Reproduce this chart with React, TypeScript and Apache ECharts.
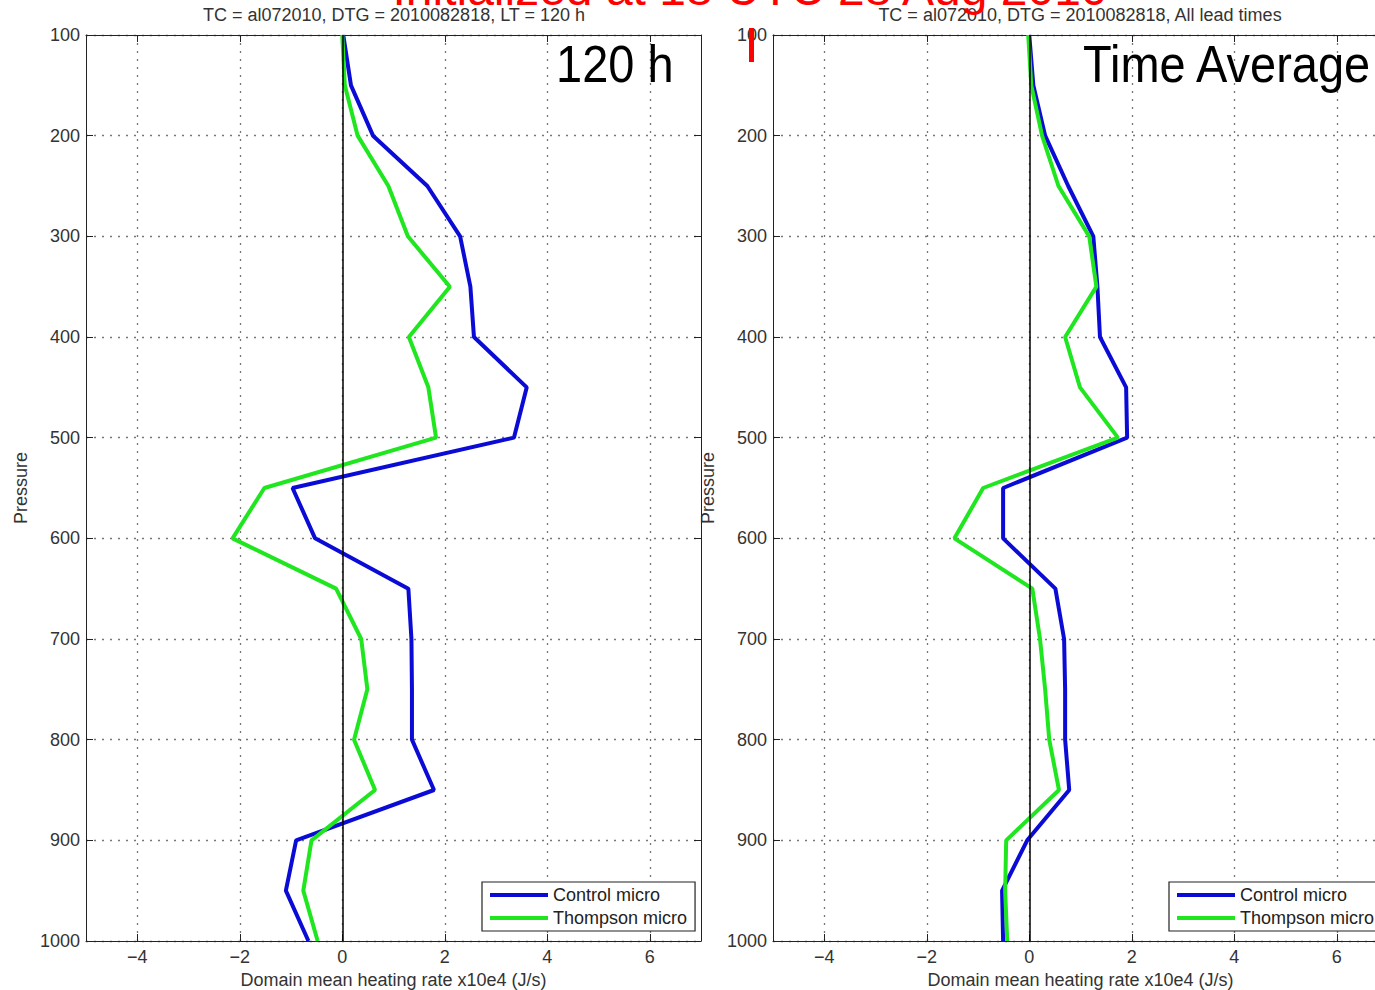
import React, { useEffect, useRef } from 'react';
import * as echarts from 'echarts';

const pressureLevels = [100, 150, 200, 250, 300, 350, 400, 450, 500, 550, 600, 650, 700, 750, 800, 850, 900, 950, 1000];
const control120 = [0.02, 0.17, 0.6, 1.66, 2.3, 2.5, 2.57, 3.6, 3.35, -0.97, -0.53, 1.29, 1.35, 1.36, 1.36, 1.79, -0.9, -1.1, -0.66];
const thompson120 = [0.0, 0.05, 0.3, 0.9, 1.28, 2.1, 1.3, 1.68, 1.83, -1.52, -2.14, -0.12, 0.37, 0.49, 0.23, 0.64, -0.6, -0.76, -0.48];
const controlAvg = [0.0, 0.08, 0.31, 0.76, 1.25, 1.33, 1.38, 1.89, 1.91, -0.51, -0.51, 0.51, 0.68, 0.7, 0.7, 0.78, -0.04, -0.53, -0.51];
const thompsonAvg = [-0.02, 0.04, 0.25, 0.57, 1.17, 1.31, 0.7, 0.99, 1.73, -0.9, -1.46, 0.06, 0.21, 0.31, 0.39, 0.58, -0.45, -0.47, -0.43];
const xTicks = [-4, -2, 0, 2, 4, 6];
const seriesNames = ['Control micro', 'Thompson micro'];
const panelTitles = ['TC = al072010, DTG = 2010082818, LT = 120 h', 'TC = al072010, DTG = 2010082818, All lead times'];
const panelLabels = ['120 h', 'Time Average'];
const mainTitle = 'Initialized at 18 UTC 28 Aug 2010';
const xAxisName = 'Domain mean heating rate x10e4 (J/s)';
const yAxisName = 'Pressure';

const FONT = '"Liberation Sans", Arial, Helvetica, sans-serif';
const BLUE = '#0b0bd6';
const GREEN = '#1fe61f';
const AXIS = '#222';
const FS = 18;

const fmtX = (v: number) => (v < 0 ? '\u2212' + Math.abs(v) : String(v));

function makeX(gridIndex: number) {
  return [
    {
      gridIndex, type: 'value', min: -5, max: 7, position: 'bottom',
      axisLine: { show: true, onZero: false, lineStyle: { color: AXIS, width: 1 } },
      axisTick: { show: true, inside: true, length: 7, customValues: xTicks, lineStyle: { color: AXIS } },
      axisLabel: { show: true, customValues: xTicks, formatter: fmtX, fontSize: FS, color: '#333', margin: 7, fontFamily: FONT },
      splitLine: { show: true, lineStyle: { type: [2, 6], color: '#777', width: 1.3 } },
      name: xAxisName, nameLocation: 'middle', nameGap: 29,
      nameTextStyle: { fontSize: FS, color: '#333', fontFamily: FONT },
    },
    {
      gridIndex, type: 'value', min: -5, max: 7, position: 'top',
      axisLine: { show: true, onZero: false, lineStyle: { color: AXIS, width: 1 } },
      axisTick: { show: true, inside: true, length: 7, customValues: xTicks, lineStyle: { color: AXIS } },
      axisLabel: { show: false },
      splitLine: { show: false },
    },
  ];
}

function makeY(gridIndex: number) {
  return [
    {
      gridIndex, type: 'value', min: 100, max: 1000, interval: 100, inverse: true, position: 'left',
      axisLine: { show: true, onZero: false, lineStyle: { color: AXIS, width: 1 } },
      axisTick: { show: true, inside: true, length: 7, lineStyle: { color: AXIS } },
      axisLabel: { show: true, fontSize: FS, color: '#333', margin: 6, fontFamily: FONT, formatter: (v: number) => String(v) },
      splitLine: { show: true, lineStyle: { type: [2, 6], color: '#777', width: 1.3 } },
      name: yAxisName, nameLocation: 'middle', nameGap: 56, nameRotate: 90,
      nameTextStyle: { fontSize: FS, color: '#333', fontFamily: FONT },
    },
    {
      gridIndex, type: 'value', min: 100, max: 1000, interval: 100, inverse: true, position: 'right',
      axisLine: { show: true, onZero: false, lineStyle: { color: AXIS, width: 1 } },
      axisTick: { show: true, inside: true, length: 7, lineStyle: { color: AXIS } },
      axisLabel: { show: false },
      splitLine: { show: false },
    },
  ];
}

function makeSeries(name: string, vals: number[], color: string, axisIdx: number, zero: boolean) {
  return {
    name, type: 'line', xAxisIndex: axisIdx, yAxisIndex: axisIdx,
    data: pressureLevels.map((p, i) => [vals[i], p]),
    showSymbol: false, symbol: 'none',
    lineStyle: { color, width: 4 }, itemStyle: { color },
    z: 3,
    markLine: zero ? {
      silent: true, symbol: 'none', label: { show: false },
      lineStyle: { color: '#000', width: 1.5, type: 'solid' },
      data: [{ xAxis: 0 }],
    } : undefined,
  };
}

function makeLegend(left: number) {
  return {
    left, top: 882, orient: 'vertical', data: seriesNames,
    icon: 'rect', itemWidth: 58, itemHeight: 4, itemGap: 5,
    padding: [4, 8, 4, 8],
    borderColor: AXIS, borderWidth: 1.2, backgroundColor: '#fff',
    textStyle: { fontSize: FS, color: '#222', lineHeight: 18, fontFamily: FONT },
  };
}

export default function App() {
  const ref = useRef<HTMLDivElement>(null);
  useEffect(() => {
    if (!ref.current) return;
    const chart = echarts.init(ref.current, undefined, { renderer: 'svg' });
    chart.setOption({
      animation: false,
      backgroundColor: '#fff',
      textStyle: { fontFamily: FONT },
      grid: [
        { left: 86, top: 35, width: 615, height: 906, outerBoundsMode: 'none', containLabel: false },
        { left: 773, top: 35, width: 615, height: 906, outerBoundsMode: 'none', containLabel: false },
      ],
      xAxis: [...makeX(0), ...makeX(1)],
      yAxis: [...makeY(0), ...makeY(1)],
      legend: [makeLegend(482), makeLegend(1169)],
      series: [
        makeSeries(seriesNames[0], control120, BLUE, 0, true),
        makeSeries(seriesNames[1], thompson120, GREEN, 0, false),
        makeSeries(seriesNames[0], controlAvg, BLUE, 2, true),
        makeSeries(seriesNames[1], thompsonAvg, GREEN, 2, false),
      ],
      graphic: [
        { type: 'text', x: 750, y: -12, z: 10, style: { text: mainTitle, fontSize: 48, fill: '#ff0000', align: 'center', verticalAlign: 'middle', fontFamily: FONT } },
        { type: 'rect', z: 10, shape: { x: 749, y: 28, width: 5, height: 34 }, style: { fill: '#ff0000' } },
        { type: 'text', x: 394, y: 15, style: { text: panelTitles[0], fontSize: FS, fill: '#333', align: 'center', verticalAlign: 'middle', fontFamily: FONT } },
        { type: 'text', x: 1080, y: 15, style: { text: panelTitles[1], fontSize: FS, fill: '#333', align: 'center', verticalAlign: 'middle', fontFamily: FONT } },
        { type: 'text', x: 556, y: 64, scaleY: 1.12, z: 10, style: { text: panelLabels[0], fontSize: 47, fill: '#000', align: 'left', verticalAlign: 'middle', fontFamily: FONT } },
        { type: 'text', x: 1083, y: 64, scaleY: 1.12, z: 10, style: { text: panelLabels[1], fontSize: 47, fill: '#000', align: 'left', verticalAlign: 'middle', fontFamily: FONT } },
      ],
    });
    return () => chart.dispose();
  }, []);
  return (
    <div style={{ position: 'absolute', left: 0, top: 0, width: 1375, height: 990, overflow: 'hidden', background: '#fff' }}>
      <div ref={ref} style={{ width: 1400, height: 990 }} />
    </div>
  );
}
